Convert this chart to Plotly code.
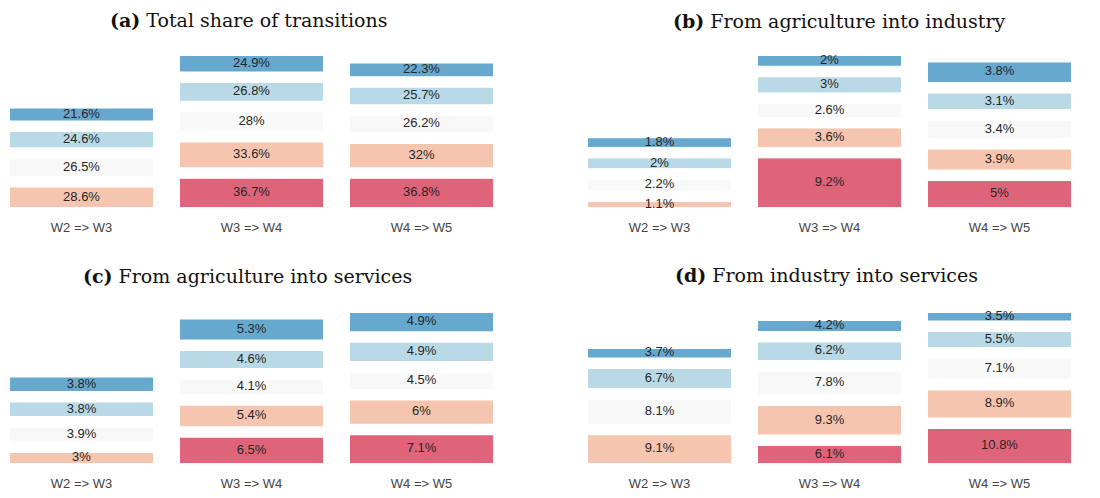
import plotly.graph_objects as go

# ---------------- data ----------------
periods = ["W2 => W3", "W3 => W4", "W4 => W5"]

panel_titles = [
    "<b>(a)</b> Total share of transitions",
    "<b>(b)</b> From agriculture into industry",
    "<b>(c)</b> From agriculture into services",
    "<b>(d)</b> From industry into services",
]

# series stacked bottom -> top (None = no segment)
a_s1 = [None, 36.7, 36.8]
a_s2 = [28.6, 33.6, 32.0]
a_s3 = [26.5, 28.0, 26.2]
a_s4 = [24.6, 26.8, 25.7]
a_s5 = [21.6, 24.9, 22.3]

b_s1 = [None, 9.2, 5.0]
b_s2 = [1.1, 3.6, 3.9]
b_s3 = [2.2, 2.6, 3.4]
b_s4 = [2.0, 3.0, 3.1]
b_s5 = [1.8, 2.0, 3.8]

c_s1 = [None, 6.5, 7.1]
c_s2 = [3.0, 5.4, 6.0]
c_s3 = [3.9, 4.1, 4.5]
c_s4 = [3.8, 4.6, 4.9]
c_s5 = [3.8, 5.3, 4.9]

d_s1 = [None, 6.1, 10.8]
d_s2 = [9.1, 9.3, 8.9]
d_s3 = [8.1, 7.8, 7.1]
d_s4 = [6.7, 6.2, 5.5]
d_s5 = [3.7, 4.2, 3.5]

panels = [
    [a_s1, a_s2, a_s3, a_s4, a_s5],
    [b_s1, b_s2, b_s3, b_s4, b_s5],
    [c_s1, c_s2, c_s3, c_s4, c_s5],
    [d_s1, d_s2, d_s3, d_s4, d_s5],
]

# ---------------- styles ----------------
W, H = 1100, 498
colors = ["#e06479", "#f6c5af", "#f8f8f8", "#b9d9e7", "#67a8cf"]
gap_px = 11.5                    # visible gap between segments
edge_px = [11, 1, 3, 5]          # white edge width per panel
bar_px = 143                     # visible bar width
step_px = 170                    # distance between columns
# pixel geometry of each panel: (left, right, top, bottom, first column centre)
geom = [
    (0, 510, 56, 207, 81.5),
    (578, 1095, 56, 207, 659.5),
    (0, 510, 313, 463, 81.5),
    (578, 1095, 313, 463, 659.5),
]
title_pos = [(248.5, 20), (839, 21), (247.5, 276), (826.5, 275)]

fig = go.Figure()
layout_axes = {}

for p, series in enumerate(panels):
    L, R, T, B, c0 = geom[p]
    lw = edge_px[p]
    Hpx = B - T
    ymax = 0
    for j in range(len(periods)):
        vals = [s[j] for s in series if s[j] is not None]
        S = sum(vals)
        n = len(vals)
        yc = S / (1 - (n - 1) * (gap_px - lw) / (Hpx + lw))
        ymax = max(ymax, yc)
    k = (Hpx + lw) / ymax
    G = (gap_px - lw) / k
    pad = lw / (2 * k)

    xa = "x" if p == 0 else f"x{p+1}"
    ya = "y" if p == 0 else f"y{p+1}"

    cum = [0.0] * len(periods)
    cnt = [0] * len(periods)
    for si, s in enumerate(series):
        xs, ys, bs, txt = [], [], [], []
        for j, v in enumerate(s):
            if v is None:
                continue
            base = cum[j] + cnt[j] * G
            xs.append(periods[j])
            ys.append(v)
            bs.append(base)
            txt.append(f"{v:g}%")
            cum[j] += v
            cnt[j] += 1
        fig.add_trace(go.Bar(
            x=xs, y=ys, base=bs, xaxis=xa, yaxis=ya,
            marker=dict(color=colors[si], line=dict(color="white", width=lw)),
            width=(bar_px + lw) / step_px, showlegend=False, hoverinfo="skip",
        ))
        fig.add_trace(go.Scatter(
            x=xs, y=[b + v / 2 for b, v in zip(bs, ys)], text=txt,
            mode="text", xaxis=xa, yaxis=ya, cliponaxis=False,
            textfont=dict(family="Liberation Sans, Arial", size=13, color="#262626"),
            showlegend=False, hoverinfo="skip",
        ))

    xkey = "xaxis" if p == 0 else f"xaxis{p+1}"
    ykey = "yaxis" if p == 0 else f"yaxis{p+1}"
    layout_axes[xkey] = dict(
        domain=[L / W, R / W], anchor=ya, type="category",
        categoryorder="array", categoryarray=periods,
        range=[(L - c0) / step_px, (R - c0) / step_px],
        showgrid=False, zeroline=False, showline=False,
        ticks="outside", ticklen=8, tickcolor="rgba(0,0,0,0)",
        tickfont=dict(family="Liberation Sans, Arial", size=13, color="#444444"),
        fixedrange=True,
    )
    layout_axes[ykey] = dict(
        domain=[1 - B / H, 1 - T / H], anchor=xa,
        range=[pad, ymax - pad], visible=False, fixedrange=True,
    )

annotations = []
for p, t in enumerate(panel_titles):
    cx, cy = title_pos[p]
    annotations.append(dict(
        text=t, x=cx / W, y=1 - cy / H, xref="paper", yref="paper",
        xanchor="center", yanchor="middle", showarrow=False,
        font=dict(family="DejaVu Serif", size=19, color="#111111"),
    ))

fig.update_layout(
    width=W, height=H, margin=dict(l=0, r=0, t=0, b=0),
    paper_bgcolor="white", plot_bgcolor="white",
    barmode="overlay", annotations=annotations, **layout_axes,
)

fig.write_html(
    "out.html",
    config={"displayModeBar": False, "staticPlot": True},
    post_script="document.body.style.margin='0px';document.body.style.overflow='hidden';",
)
